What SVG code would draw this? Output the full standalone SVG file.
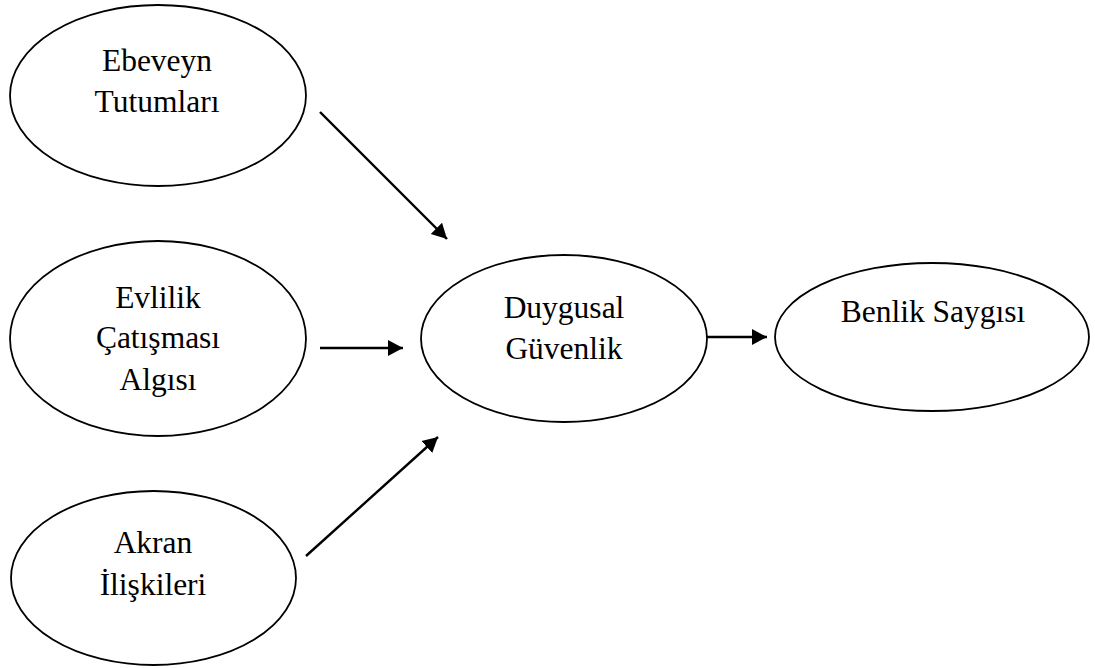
<svg xmlns="http://www.w3.org/2000/svg" width="1095" height="668" viewBox="0 0 1095 668">
<style>
.node ellipse{fill:#fff;stroke:#000;stroke-width:1.8}
.node text{font-family:"Liberation Serif","Times New Roman",serif;font-size:31.5px;fill:#000;text-anchor:middle}
.conn line{stroke:#000;stroke-width:2.4}
</style>
<defs>
<marker id="ah" markerUnits="userSpaceOnUse" markerWidth="16" markerHeight="17" viewBox="0 0 16 17" refX="15" refY="8.5" orient="auto">
<path d="M0,0.5 L15,8.5 L0,16.5 Z" fill="#000"/>
</marker>
</defs>
<rect width="1095" height="668" fill="#fff"/>
<g id="n-ebeveyn" class="node">
<ellipse cx="158" cy="95.5" rx="148" ry="90.5"/>
<text x="157" y="71">Ebeveyn</text>
<text x="157" y="112">Tutumları</text>
</g>
<g id="n-evlilik" class="node">
<ellipse cx="158" cy="338.5" rx="148" ry="97.5"/>
<text x="158" y="308">Evlilik</text>
<text x="158" y="348">Çatışması</text>
<text x="158" y="390">Algısı</text>
</g>
<g id="n-akran" class="node">
<ellipse cx="153.5" cy="578" rx="142.5" ry="87"/>
<text x="153" y="553">Akran</text>
<text x="153" y="595">İlişkileri</text>
</g>
<g id="n-duygusal" class="node">
<ellipse cx="564" cy="338.5" rx="143" ry="83.5"/>
<text x="564" y="318">Duygusal</text>
<text x="564" y="359">Güvenlik</text>
</g>
<g id="n-benlik" class="node">
<ellipse cx="932" cy="337" rx="157" ry="74"/>
<text x="933" y="322">Benlik Saygısı</text>
</g>
<g id="connectors" class="conn">
<line x1="320" y1="112" x2="447" y2="239" marker-end="url(#ah)"/>
<line x1="320" y1="348" x2="403" y2="348" marker-end="url(#ah)"/>
<line x1="306" y1="556" x2="438" y2="437" marker-end="url(#ah)"/>
<line x1="707" y1="337" x2="767" y2="337" marker-end="url(#ah)"/>
</g>
</svg>
